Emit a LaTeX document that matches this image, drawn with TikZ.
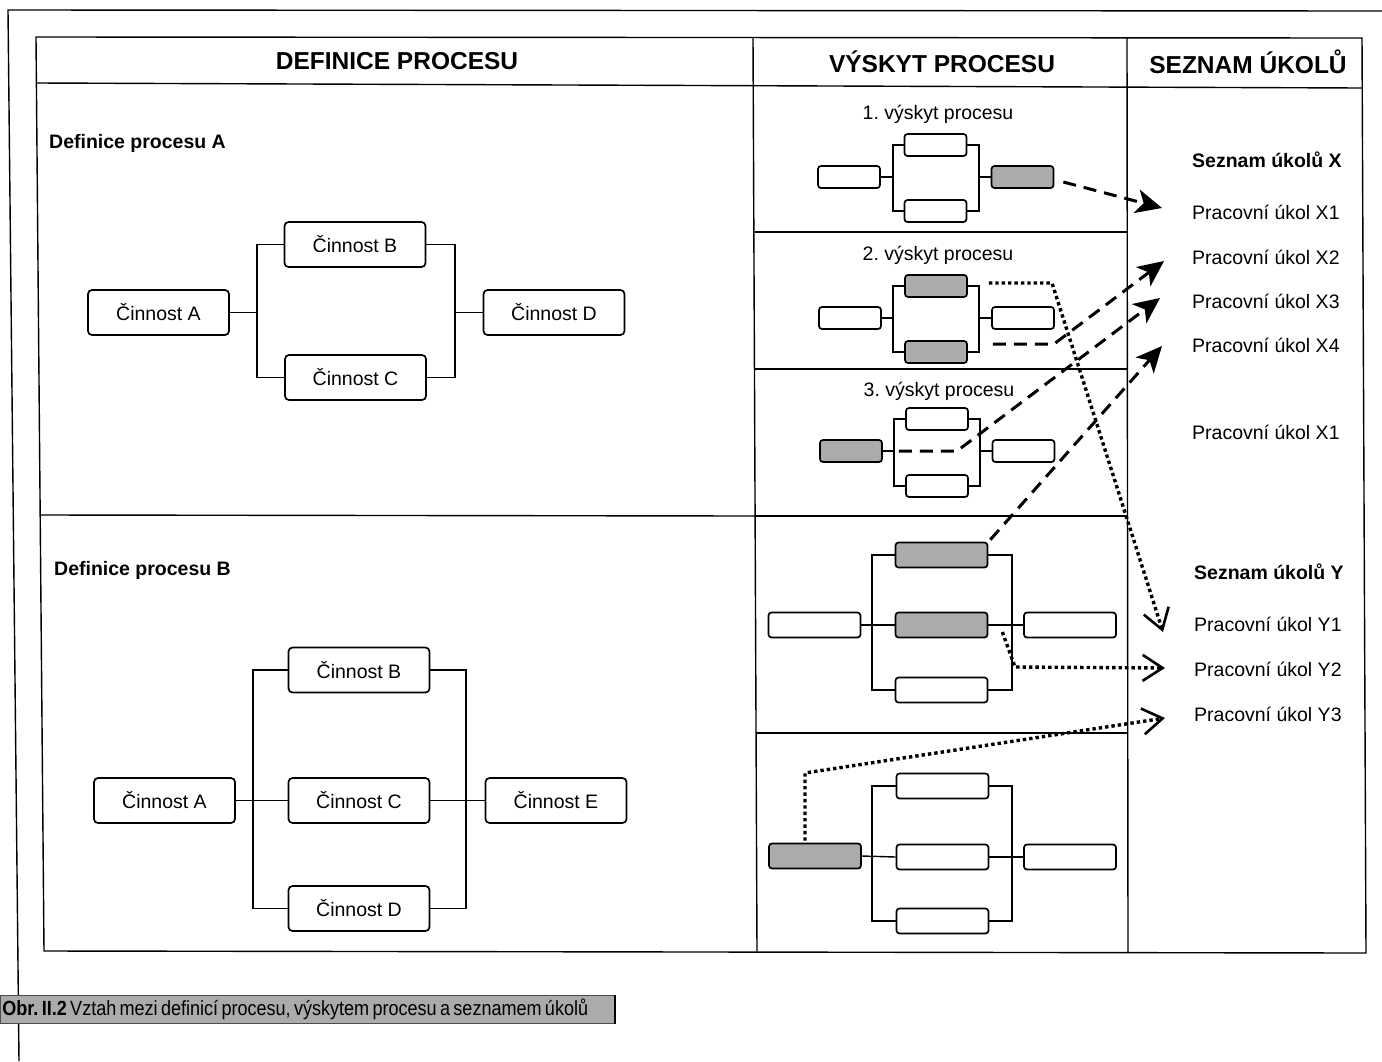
\documentclass[tikz,border=0pt]{standalone}
\usepackage{fontspec}
\setmainfont{Liberation Sans}
\newfontfamily\capfont[FakeStretch=0.88]{Liberation Sans}
\usetikzlibrary{arrows.meta,calc}
\begin{document}
\begin{tikzpicture}[x=1pt,y=-1pt,
  act/.style={draw, line width=1.7pt, rounded corners=4pt, minimum width=141pt, minimum height=45pt, inner sep=0pt, font=\fontsize{19.5}{22}\selectfont},
  sb/.style={draw, line width=1.7pt, rounded corners=3pt, minimum width=62pt, minimum height=22pt, inner sep=0pt},
  mb/.style={sb, minimum width=92pt, minimum height=25pt},
  hl/.style={fill=black!33},
  conn/.style={line width=1.4pt},
  tbl/.style={line width=1.4pt},
  txt/.style={font=\fontsize{19.5}{22}\selectfont, inner sep=0pt},
  btxt/.style={font=\bfseries\fontsize{19.5}{22}\selectfont, inner sep=0pt},
  head/.style={font=\bfseries\fontsize{24.5}{28}\selectfont, inner sep=0pt},
  dsh/.style={line width=3pt, dash pattern=on 13pt off 8pt, -{Stealth[length=26pt,width=24pt,inset=7pt]}},
  dtt/.style={line width=3.4pt, dash pattern=on 3.4pt off 3pt, -{Straight Barb[length=20pt,width=26pt,line width=2.6pt]}},
]
\useasboundingbox (0,0) rectangle (1382,1061);

% outer frame
\draw[tbl] (19,1061) -- (8,10) -- (1382,11);

% table
\draw[tbl] (36,37) -- (1362,38) -- (1366,953) -- (44,951) -- cycle;
\draw[tbl] (753,37.5) -- (757,951.5);
\draw[tbl] (1127,38) -- (1128,953);
\draw[tbl] (36,83) -- (1362,88);
\draw[tbl] (40,515) -- (756,516);
\draw[tbl] (755,232) -- (1127.5,232);
\draw[tbl] (755,369) -- (1127.5,369);
\draw[tbl] (756,516) -- (1128,516);
\draw[tbl] (756,733) -- (1128,733);

% headers
\node[head] (h1) at (397,61) {DEFINICE PROCESU};
\node[head] (h2) at (942,62) {VÝSKYT PROCESU};
\node[head] (h3) at (1248,62) {SEZNAM ÚKOLŮ};

% definition A
\node[btxt, anchor=west] (tA) at (49,143) {Definice procesu A};
\node[act] (dA1) at (158.5,312.5) {Činnost A};
\node[act] (dB1) at (355,244.5) {Činnost B};
\node[act] (dC1) at (355.5,377.5) {Činnost C};
\node[act] (dD1) at (554,312.5) {Činnost D};
\coordinate (jA1) at (257,312.5);
\coordinate (kA1) at (455,312.5);
\draw[conn] (dB1.west) -| (jA1) |- (dC1.west);
\draw[conn] (dA1.east) -- (jA1);
\draw[conn] (dB1.east) -| (kA1) |- (dC1.east);
\draw[conn] (kA1) -- (dD1.west);

% definition B
\node[btxt, anchor=west] (tB) at (54,570) {Definice procesu B};
\node[act] (dA2) at (164.5,800.5) {Činnost A};
\node[act] (dB2) at (359,670) {Činnost B};
\node[act] (dC2) at (359,800.5) {Činnost C};
\node[act] (dD2) at (359,908.5) {Činnost D};
\node[act] (dE2) at (556,800.5) {Činnost E};
\coordinate (jB2) at (253,800.5);
\coordinate (kB2) at (466,800.5);
\draw[conn] (dB2.west) -| (jB2) |- (dD2.west);
\draw[conn] (dA2.east) -- (dC2.west);
\draw[conn] (dB2.east) -| (kB2) |- (dD2.east);
\draw[conn] (dC2.east) -- (dE2.west);

% occurrence 1
\node[txt] (v1) at (938,114) {1.\ výskyt procesu};
\node[sb] (o1a) at (849,177) {};
\node[sb] (o1b) at (935.5,145) {};
\node[sb] (o1c) at (935.5,211) {};
\node[sb,hl] (o1d) at (1022.5,177) {};
\coordinate (j1) at (893,177);
\coordinate (k1) at (979,177);
\draw[conn] (o1a.east) -- (j1);
\draw[conn] (o1b.west) -| (j1) |- (o1c.west);
\draw[conn] (o1b.east) -| (k1) |- (o1c.east);
\draw[conn] (k1) -- (o1d.west);

% occurrence 2
\node[txt] (v2) at (938,255) {2.\ výskyt procesu};
\node[sb] (o2a) at (850,318) {};
\node[sb,hl] (o2b) at (936,286) {};
\node[sb,hl] (o2c) at (936,352) {};
\node[sb] (o2d) at (1023,318) {};
\coordinate (j2) at (893,318);
\coordinate (k2) at (979,318);
\draw[conn] (o2a.east) -- (j2);
\draw[conn] (o2b.west) -| (j2) |- (o2c.west);
\draw[conn] (o2b.east) -| (k2) |- (o2c.east);
\draw[conn] (k2) -- (o2d.west);

% occurrence 3
\node[txt] (v3) at (939,391) {3.\ výskyt procesu};
\node[sb,hl] (o3a) at (851,451) {};
\node[sb] (o3b) at (937,419) {};
\node[sb] (o3c) at (937,486) {};
\node[sb] (o3d) at (1023.5,451) {};
\coordinate (j3) at (894,451);
\coordinate (k3) at (980,451);
\draw[conn] (o3a.east) -- (j3);
\draw[conn] (o3b.west) -| (j3) |- (o3c.west);
\draw[conn] (o3b.east) -| (k3) |- (o3c.east);
\draw[conn] (k3) -- (o3d.west);

% occurrence 4
\node[mb] (o4a) at (814.5,625) {};
\node[mb,hl] (o4b) at (941.5,555) {};
\node[mb,hl] (o4c) at (941.5,625) {};
\node[mb] (o4d) at (941.5,690) {};
\node[mb] (o4e) at (1070,625) {};
\coordinate (j4) at (872,625);
\coordinate (k4) at (1012,625);
\draw[conn] (o4a.east) -- (o4c.west);
\draw[conn] (o4b.west) -| (j4) |- (o4d.west);
\draw[conn] (o4c.east) -- (o4e.west);
\draw[conn] (o4b.east) -| (k4) |- (o4d.east);

% occurrence 5
\node[mb,hl] (o5a) at (815,856) {};
\node[mb] (o5b) at (942.5,786) {};
\node[mb] (o5c) at (942.5,857) {};
\node[mb] (o5d) at (942.5,921) {};
\node[mb] (o5e) at (1070,857) {};
\coordinate (j5) at (872,857);
\coordinate (k5) at (1012,857);
\draw[conn] (o5a.east) -- (o5c.west);
\draw[conn] (o5b.west) -| (j5) |- (o5d.west);
\draw[conn] (o5c.east) -- (o5e.west);
\draw[conn] (o5b.east) -| (k5) |- (o5d.east);

% task lists
\node[btxt, anchor=west] (sx) at (1192,160) {Seznam úkolů X};
\node[txt, anchor=west] (x1) at (1192,212) {Pracovní úkol X1};
\node[txt, anchor=west] (x2) at (1192,257) {Pracovní úkol X2};
\node[txt, anchor=west] (x3) at (1192,301) {Pracovní úkol X3};
\node[txt, anchor=west] (x4) at (1192,345) {Pracovní úkol X4};
\node[txt, anchor=west] (x5) at (1192,432) {Pracovní úkol X1};
\node[btxt, anchor=west] (sy) at (1194,572) {Seznam úkolů Y};
\node[txt, anchor=west] (y1) at (1194,624) {Pracovní úkol Y1};
\node[txt, anchor=west] (y2) at (1194,669) {Pracovní úkol Y2};
\node[txt, anchor=west] (y3) at (1194,714) {Pracovní úkol Y3};

% arrow targets
\coordinate (tx1) at ($(x1.west)+(-30,-4)$);
\coordinate (tx2) at ($(x2.west)+(-28,4)$);
\coordinate (tx3) at ($(x3.west)+(-32,-3)$);
\coordinate (tx4) at ($(x4.west)+(-30,1)$);
\coordinate (ty1) at ($(y1.west)+(-31,8)$);
\coordinate (ty2) at ($(y2.west)+(-29,-1)$);
\coordinate (ty3) at ($(y3.west)+(-29,4)$);

% dashed arrows
\draw[dsh] ($(o1d.east)+(9,5)$) -- (tx1);
\draw[dsh] ($(o2c.east)+(25,-8)$) -- (1054,344) -- (tx2);
\draw[dsh] ($(o3a.east)+(16,0)$) -- (957,451) -- (tx3);
\draw[dsh] ($(o4b.north east)+(2,-2)$) -- (tx4);

% dotted arrows
\draw[dtt] ($(o2b.east)+(21,-3)$) -- (1052,283) -- (ty1);
\draw[dtt] ($(o4c.east)+(14,7)$) -- (1015,667) -- (ty2);
\draw[dtt] ($(o5a.north)+(-10,-2)$) -- (805,773) -- (ty3);

% caption
\node[anchor=north west, fill=black!33, draw=black!70, line width=0.8pt, minimum width=614pt, minimum height=28pt, inner sep=2pt, text width=610pt, align=left] (cap) at (0,995) {\capfont\fontsize{20.5}{22}\selectfont\textbf{Obr.\ II.2} Vztah mezi definicí procesu, výskytem procesu a seznamem úkolů};
\draw[line width=2.2pt] (cap.north east) -- (cap.south east);
\end{tikzpicture}
\end{document}
